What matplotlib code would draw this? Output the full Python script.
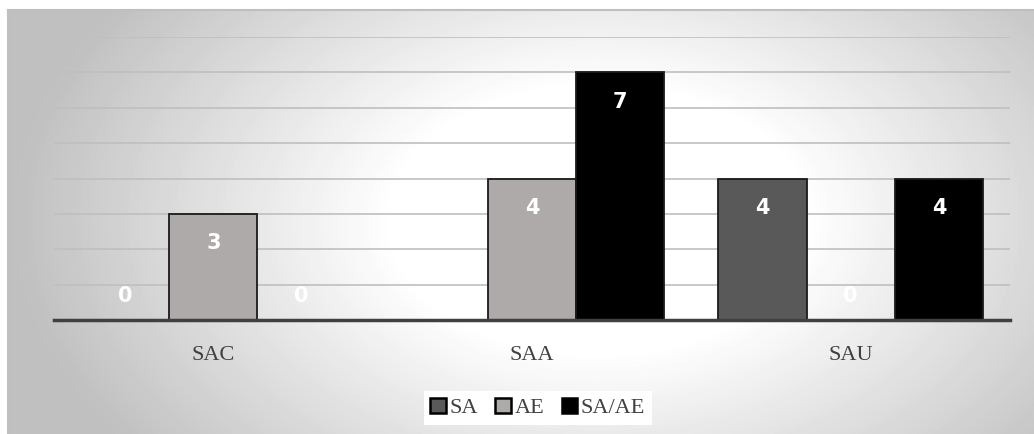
import numpy as np
import matplotlib
matplotlib.use("Agg")
import matplotlib.pyplot as plt

categories = ["SAC", "SAA", "SAU"]
series_names = ["SA", "AE", "SA/AE"]
sa = [0, 0, 4]
ae = [3, 4, 0]
sa_ae = [0, 7, 4]
colors = ["#595959", "#AEAAAA", "#000000"]

W, H = 1034, 434
fig = plt.figure(figsize=(W / 100, H / 100), dpi=100)
fig.patch.set_facecolor("white")

# background with radial gradient
bg = fig.add_axes([8 / W, 0, 1 - 8 / W, 1 - 10 / H], zorder=-5)
yy, xx = np.mgrid[0:424, 0:1026]
cx, cy = 590, 210
d = np.sqrt(((xx - cx) / 590.0) ** 2 + ((yy - cy) / 380.0) ** 2)
val = 1 - 0.25 * np.clip((d - 0.35) / 0.65, 0, 1)
bg.imshow(val, cmap="gray", vmin=0, vmax=1, aspect="auto", interpolation="bilinear")
bg.set_axis_off()
fig.add_artist(plt.Line2D([8 / W, 1], [1 - 10 / H, 1 - 10 / H], color="#bfbfbf", lw=1.5))
fig.add_artist(plt.Line2D([8 / W, 8 / W], [0, 1 - 10 / H], color="#bfbfbf", lw=1.5))

ax = fig.add_axes([54 / W, 1 - 320 / H, (1010 - 54) / W, (320 - 37) / H])
ax.patch.set_alpha(0)

x = np.arange(len(categories))
w = 0.277
data = [sa, ae, sa_ae]
for i, (vals, name, c) in enumerate(zip(data, series_names, colors)):
    pos = x + (i - 1) * w
    ax.bar(pos, vals, width=w, color=c, edgecolor="#1a1a1a", linewidth=1.3, label=name, zorder=3)
    for px, v in zip(pos, vals):
        off = -21 if v > 0 else 17
        ax.annotate(str(v), (px, v), xytext=(0, off), textcoords="offset points",
                    ha="center", va="center", color="white", fontsize=15,
                    fontweight="bold", family="DejaVu Sans", zorder=4)

ax.set_xlim(-0.5, 2.5)
ax.set_ylim(0, 8)
ax.set_yticks(range(0, 9))
ax.yaxis.grid(True, color="#bfbfbf", lw=1.2, zorder=0)
ax.tick_params(axis="y", left=False, labelleft=False)
ax.tick_params(axis="x", bottom=False, pad=15, labelsize=16, labelcolor="#404040")
ax.set_xticks(x)
ax.set_xticklabels(categories, family="Liberation Serif")
for s in ["top", "right", "left"]:
    ax.spines[s].set_visible(False)
ax.spines["bottom"].set_color("#404040")
ax.spines["bottom"].set_linewidth(2.5)
ax.spines["bottom"].set_zorder(5)

leg = fig.legend(loc="center", bbox_to_anchor=(0.52, 1 - 408 / H), ncol=3, frameon=True,
                 prop={"family": "Liberation Serif", "size": 16}, handlelength=0.7,
                 handleheight=0.7, handletextpad=0.15, columnspacing=0.8,
                 borderpad=0.3, fancybox=False)
leg.get_frame().set_facecolor("white")
leg.get_frame().set_edgecolor("none")
leg.get_frame().set_alpha(1)
for t in leg.get_texts():
    t.set_color("#404040")
for h in leg.legend_handles:
    h.set_linewidth(1.8)
    h.set_edgecolor("black")

fig.savefig("out.png", dpi=100)
